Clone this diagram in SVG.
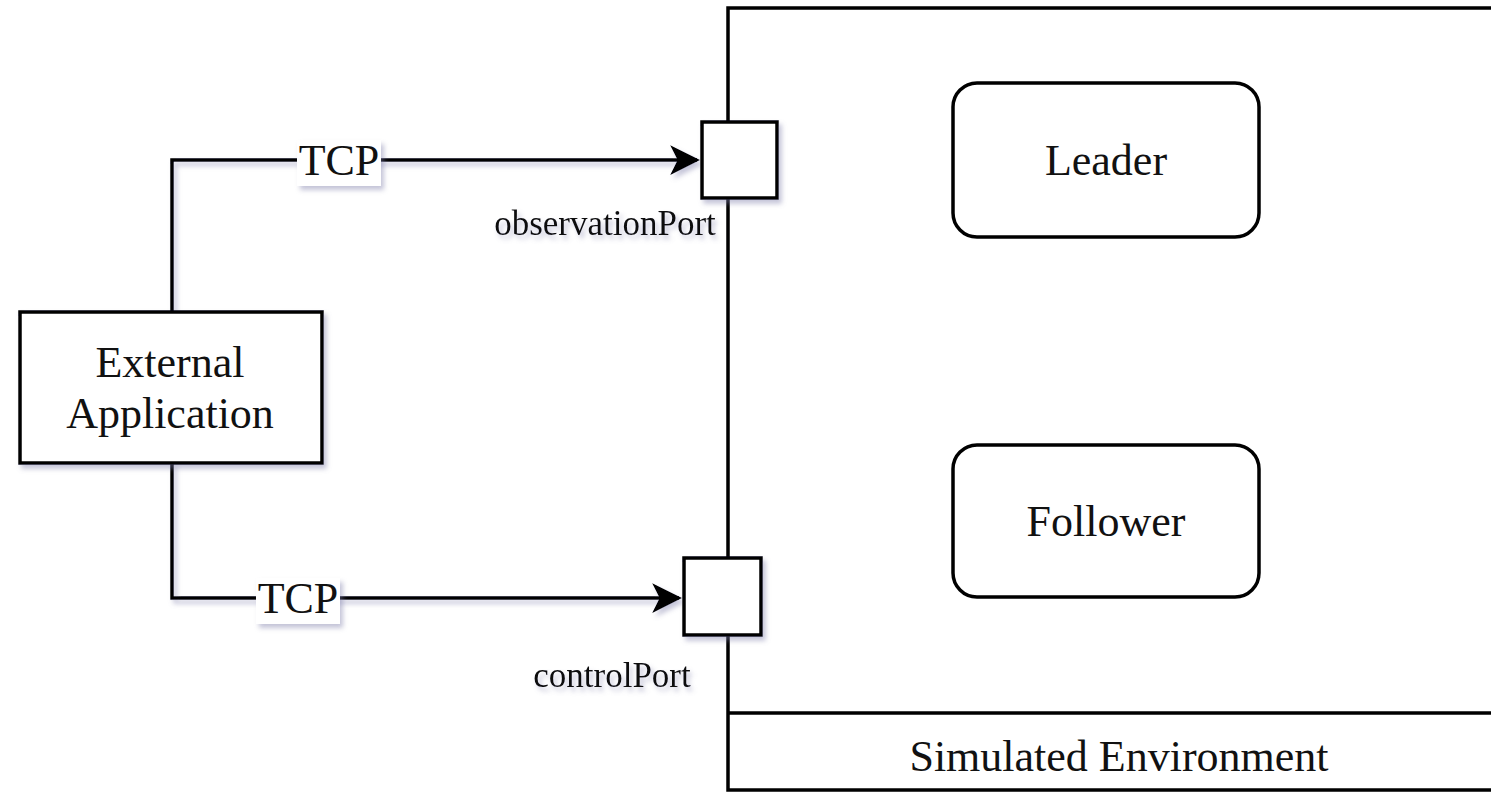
<svg xmlns="http://www.w3.org/2000/svg" width="1491" height="793" viewBox="0 0 1491 793">
<defs>
<filter id="sh" x="-10%" y="-10%" width="130%" height="130%">
<feDropShadow dx="3" dy="4" stdDeviation="2.5" flood-color="#7a7aa8" flood-opacity="0.45"/>
</filter>
<marker id="arr" viewBox="0 0 10 10" refX="9" refY="5" markerWidth="8.5" markerHeight="8.5" orient="auto" markerUnits="strokeWidth">
<path d="M0,0 L10,5 L0,10 L2.5,5 Z" fill="#000"/>
</marker>
<style>
.box{fill:#fff;stroke:#000;stroke-width:3.5}
.line{fill:none;stroke:#000;stroke-width:3.5}
.t{font-family:"Liberation Serif","Times New Roman",serif;fill:#111;text-anchor:middle}
.big{font-size:44px}
.small{font-size:35px}
</style>
</defs>
<rect width="1491" height="793" fill="#fff"/>
<g id="simulated-environment">
<rect class="box" x="728" y="8" width="790" height="782"/>
<line class="line" x1="728" y1="713" x2="1500" y2="713"/>
<text class="t big" x="1119" y="771">Simulated Environment</text>
</g>
<g id="connectors" filter="url(#sh)">
<path class="line" d="M172,312 V160 H697" marker-end="url(#arr)"/>
<path class="line" d="M172,463 V598 H679" marker-end="url(#arr)"/>
</g>
<g id="tcp-labels">
<g id="tcp-top">
<rect x="297" y="140" width="84" height="46" fill="#fff" filter="url(#sh)"/>
<text class="t big" x="339" y="175">TCP</text>
</g>
<g id="tcp-bottom">
<rect x="256" y="578" width="84" height="46" fill="#fff" filter="url(#sh)"/>
<text class="t big" x="298" y="613">TCP</text>
</g>
</g>
<g id="external-application">
<rect class="box" x="20" y="312" width="302" height="151" filter="url(#sh)"/>
<text class="t big" x="170" y="377">External</text>
<text class="t big" x="170" y="428">Application</text>
</g>
<g id="observation-port">
<rect class="box" x="702" y="122" width="75" height="76" filter="url(#sh)"/>
<text class="t small" x="605" y="235" filter="url(#sh)">observationPort</text>
</g>
<g id="control-port">
<rect class="box" x="684" y="558" width="77" height="77" filter="url(#sh)"/>
<text class="t small" x="612" y="687" filter="url(#sh)">controlPort</text>
</g>
<g id="leader">
<rect class="box" x="953" y="83" width="306" height="154" rx="24"/>
<text class="t big" x="1106" y="175">Leader</text>
</g>
<g id="follower">
<rect class="box" x="953" y="445" width="306" height="152" rx="24"/>
<text class="t big" x="1106" y="536">Follower</text>
</g>
</svg>
